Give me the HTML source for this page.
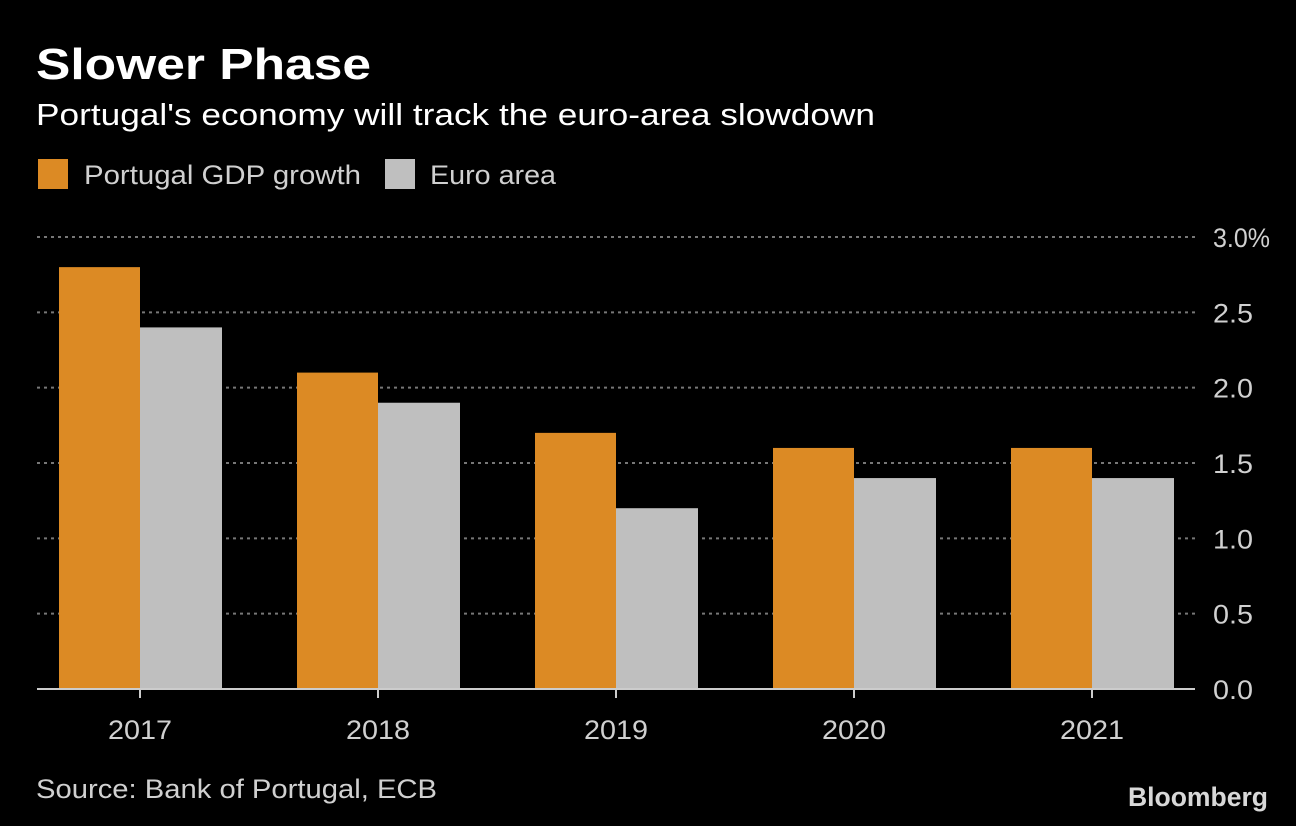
<!DOCTYPE html>
<html><head><meta charset="utf-8"><style>
html,body{margin:0;padding:0;background:#000;width:1296px;height:826px;overflow:hidden;font-family:"Liberation Sans",sans-serif;color:#fff}
</style></head><body>
<svg width="1296" height="826" xmlns="http://www.w3.org/2000/svg">
<text x="36" y="79" font-size="44" font-weight="bold" fill="#fff" textLength="335" lengthAdjust="spacingAndGlyphs">Slower Phase</text>
<text x="36" y="125" font-size="31" fill="#fff" textLength="839" lengthAdjust="spacingAndGlyphs">Portugal's economy will track the euro-area slowdown</text>
<rect x="38" y="159" width="30" height="30" fill="#dc8a24"/>
<text x="84" y="184" font-size="27" fill="#d0d0d0" textLength="277" lengthAdjust="spacingAndGlyphs">Portugal GDP growth</text>
<rect x="385" y="159" width="30" height="30" fill="#bfbfbf"/>
<text x="430" y="184" font-size="27" fill="#d0d0d0" textLength="126" lengthAdjust="spacingAndGlyphs">Euro area</text>
<g id="plot"></g>
<text x="36" y="798" font-size="27" fill="#d0d0d0" textLength="401" lengthAdjust="spacingAndGlyphs">Source: Bank of Portugal, ECB</text>
<text x="1128" y="806" font-size="27" font-weight="bold" fill="#d8d8d8" textLength="140" lengthAdjust="spacingAndGlyphs">Bloomberg</text>
</svg>
<script>
const categories=["2017","2018","2019","2020","2021"];
const portugal=[2.8,2.1,1.7,1.6,1.6];
const euro=[2.4,1.9,1.2,1.4,1.4];
const ticks=[0,0.5,1,1.5,2,2.5,3];
const tickLabels=["0.0","0.5","1.0","1.5","2.0","2.5","3.0%"];
const NS="http://www.w3.org/2000/svg";
const g=document.getElementById('plot');
const y=v=>689-v*(452/3);
const xc=i=>140+i*238;
const bw=81;
function mk(t,a){const e=document.createElementNS(NS,t);for(const k in a)e.setAttribute(k,a[k]);g.appendChild(e);return e;}
ticks.forEach((t,i)=>{
  if(t>0){const l=mk('line',{x1:37,x2:1195,y1:y(t),y2:y(t),stroke:'#777','stroke-width':2,'stroke-dasharray':'3,4'});
  
  }
  const lab=tickLabels[i];
  const tx=mk('text',{x:1213,y:y(t)+10,'font-size':27,fill:'#d0d0d0',textLength:lab.length>3?57:40,lengthAdjust:'spacingAndGlyphs'});tx.textContent=lab;
  
  
});
categories.forEach((c,i)=>{
  const a=mk('rect',{x:xc(i)-bw,y:y(portugal[i]),width:bw,height:y(0)-y(portugal[i]),fill:'#dc8a24'});
  
  
  const b=mk('rect',{x:xc(i),y:y(euro[i]),width:bw+1,height:y(0)-y(euro[i]),fill:'#bfbfbf'});
  
  
  const tk=mk('line',{x1:xc(i),x2:xc(i),y1:689,y2:698,stroke:'#ccc','stroke-width':2});
  
  
  const t=mk('text',{x:xc(i)-32,y:739,'font-size':27,fill:'#d0d0d0',textLength:64,lengthAdjust:'spacingAndGlyphs'});t.textContent=c;
  
  
});
const ax=mk('line',{x1:37,x2:1195,y1:689,y2:689,stroke:'#ccc','stroke-width':2});


</script>
</body></html>
